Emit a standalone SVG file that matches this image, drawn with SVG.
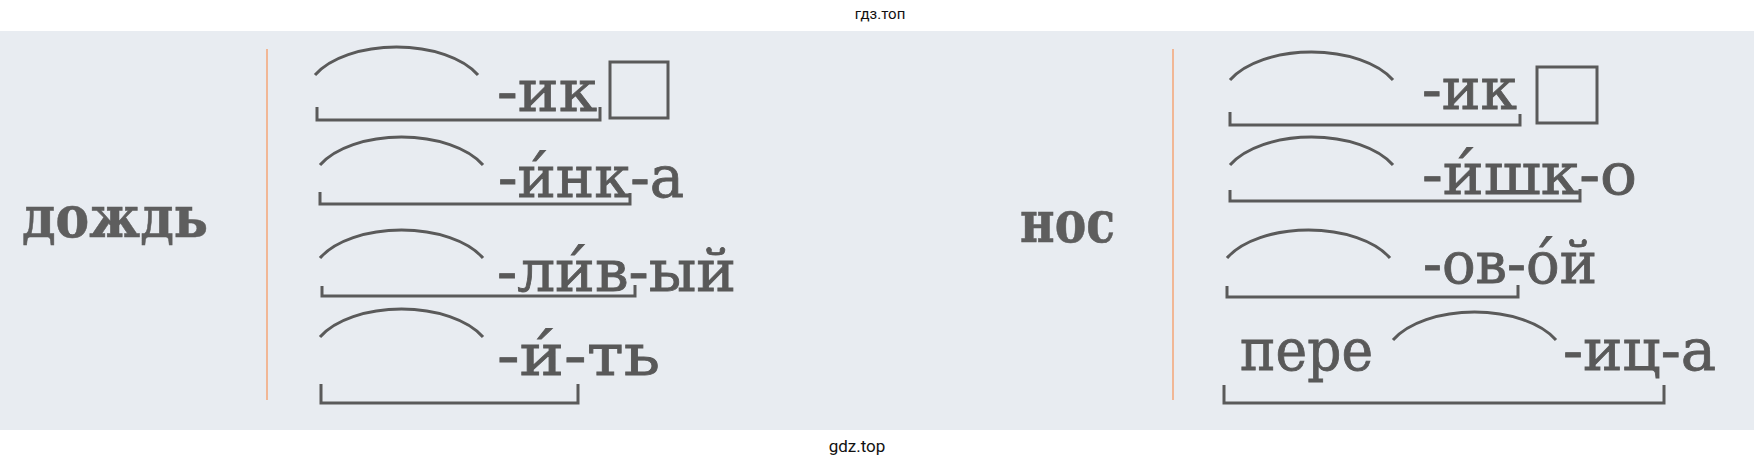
<svg xmlns="http://www.w3.org/2000/svg" width="1754" height="467" viewBox="0 0 1754 467">
<defs>
<style>
.ln{fill:none;stroke:#5a5a5a;stroke-width:3;stroke-linecap:butt;stroke-linejoin:miter}
.sep{fill:none;stroke:#f1b796;stroke-width:2}
.t{font-family:"DejaVu Serif","Liberation Serif",serif;font-size:57px;fill:#595959;stroke:#595959;stroke-width:0.8}
.b{font-family:"DejaVu Serif","Liberation Serif",serif;font-size:58px;font-weight:bold;fill:#5e5e5e;stroke:#5e5e5e;stroke-width:0.6}
.wm{font-family:Roboto,"Liberation Sans",sans-serif;fill:#111}
</style>
<path id="arc" d="M0,0 a90,48.6 0 0 1 163,0"/>
</defs>
<rect x="0" y="0" width="1754" height="467" fill="#ffffff"/>
<rect x="0" y="31" width="1754" height="399" fill="#e8ecf1"/>
<text class="wm" x="880" y="19" font-size="15" text-anchor="middle">гдз.топ</text>
<text class="wm" x="857" y="452" font-size="17" text-anchor="middle">gdz.top</text>

<g id="separators">
<line class="sep" x1="267" y1="49" x2="267" y2="400"/>
<line class="sep" x1="1173" y1="49" x2="1173" y2="400"/>
</g>

<g id="word-dozhd">
<text class="b" x="22" y="237" textLength="186" lengthAdjust="spacingAndGlyphs">дождь</text>
</g>
<g id="word-nos">
<text class="b" x="1020" y="242" textLength="95" lengthAdjust="spacingAndGlyphs">нос</text>
</g>

<g id="left-row1">
<use href="#arc" class="ln" x="315" y="75"/>
<path class="ln" d="M317,107 V120 H600 V107"/>
<text class="t" x="497" y="111" textLength="100" lengthAdjust="spacingAndGlyphs">-ик</text>
<rect class="ln" x="610" y="62" width="58" height="56"/>
</g>
<g id="left-row2">
<use href="#arc" class="ln" x="320" y="165"/>
<path class="ln" d="M320,192 V204 H630 V193"/>
<text class="t" x="498" y="197" textLength="186" lengthAdjust="spacingAndGlyphs">-и́нк-а</text>
</g>
<g id="left-row3">
<use href="#arc" class="ln" x="320" y="258"/>
<path class="ln" d="M322,286 V296 H635 V285"/>
<text class="t" x="497" y="291" textLength="239" lengthAdjust="spacingAndGlyphs">-ли́в-ый</text>
</g>
<g id="left-row4">
<use href="#arc" class="ln" x="320" y="337"/>
<path class="ln" d="M321,384 V403 H578 V384"/>
<text class="t" x="497" y="375" textLength="163" lengthAdjust="spacingAndGlyphs">-и́-ть</text>
</g>

<g id="right-row1">
<use href="#arc" class="ln" x="1230" y="80"/>
<path class="ln" d="M1230,112 V125 H1520 V114"/>
<text class="t" x="1422" y="109" textLength="95" lengthAdjust="spacingAndGlyphs">-ик</text>
<rect class="ln" x="1537" y="67" width="60" height="56"/>
</g>
<g id="right-row2">
<use href="#arc" class="ln" x="1230" y="165"/>
<path class="ln" d="M1230,190 V201 H1580 V189"/>
<text class="t" x="1422" y="194" textLength="215" lengthAdjust="spacingAndGlyphs">-и́шк-о</text>
</g>
<g id="right-row3">
<use href="#arc" class="ln" x="1227" y="258"/>
<path class="ln" d="M1227,286 V297 H1518 V285"/>
<text class="t" x="1423" y="283" textLength="174" lengthAdjust="spacingAndGlyphs">-ов-о́й</text>
</g>
<g id="right-row4">
<text class="t" x="1240" y="370" textLength="133" lengthAdjust="spacingAndGlyphs">пере</text>
<use href="#arc" class="ln" x="1393" y="340"/>
<path class="ln" d="M1224,385 V403 H1664 V385"/>
<text class="t" x="1563" y="370" textLength="153" lengthAdjust="spacingAndGlyphs">-иц-а</text>
</g>
</svg>
